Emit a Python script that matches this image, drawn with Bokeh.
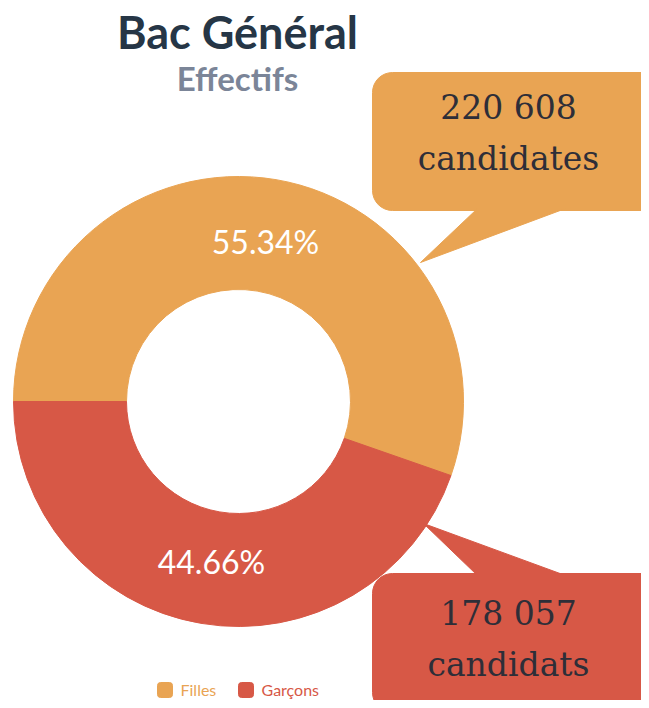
import math
from bokeh.plotting import figure
from bokeh.models import Range1d
from bokeh.core.properties import value
from bokeh.embed import file_html
from bokeh.resources import INLINE

# ---- data ----
categories = ["Filles", "Garçons"]
counts = [220608, 178057]
percent_labels = ["55.34%", "44.66%"]
callout_line1 = ["220 608", "178 057"]
callout_line2 = ["candidates", "candidats"]
colors = ["#E9A453", "#D75846"]
title_text = "Bac Général"
subtitle_text = "Effectifs"

W, H = 641, 700
p = figure(width=W, height=H, output_backend="svg", toolbar_location=None,
           x_range=Range1d(0, W), y_range=Range1d(0, H),
           min_border=0, outline_line_color=None)
p.axis.visible = False
p.grid.visible = False
p.background_fill_color = "white"

def Y(ys):  # screen y -> data y
    return H - ys

cx, cy = 238, Y(401)
r_out, r_in = 225, 112

total = sum(counts)
start = math.pi  # Filles starts at 9 o'clock and goes clockwise
angles = []
for c in counts:
    span = 2 * math.pi * c / total
    end = start - span
    angles.append((end, start))
    start = end

for (a0, a1), col in zip(angles, colors):
    p.annular_wedge(x=cx, y=cy, inner_radius=r_in, outer_radius=r_out,
                    start_angle=a0, end_angle=a1, color=col, line_color=col)

r_lab = 162
for (a0, a1), lab in zip(angles, percent_labels):
    mid = (a0 + a1) / 2
    p.text(x=[cx + r_lab * math.cos(mid)], y=[cy + r_lab * math.sin(mid)], text=[lab],
           text_font=value("Lato"), text_font_size="32px", text_color="white",
           text_align="center", text_baseline="middle")

# callouts
boxes = [(72, 210, 262, 420), (573, 712, 523, 423)]  # top, bottom, tip_y, tip_x (screen)
for i, ((top, bot, tip_y, tip_x), col) in enumerate(zip(boxes, colors)):
    p.quad(left=372, right=680, top=Y(top), bottom=Y(bot), color=col,
           line_color=col, border_radius=20)
    base_y = bot - 2 if i == 0 else top + 2
    p.patch(x=[477, 565, tip_x], y=[Y(base_y), Y(base_y), Y(tip_y)], color=col, line_color=col)
    mid_x = 508
    ly1 = top + 35 if i == 0 else top + 40
    p.text(x=[mid_x], y=[Y(ly1)], text=[callout_line1[i]],
           text_font=value("DejaVu Serif"), text_font_size="33px", text_color="#2e2e38",
           text_align="center", text_baseline="middle")
    p.text(x=[mid_x], y=[Y(ly1 + 51)], text=[callout_line2[i]],
           text_font=value("DejaVu Serif"), text_font_size="33px", text_color="#2e2e38",
           text_align="center", text_baseline="middle")

# titles
p.text(x=[237], y=[Y(31)], text=[title_text], text_font=value("Lato"),
       text_font_style="bold", text_font_size="45px", text_color="#263646",
       text_align="center", text_baseline="middle")
p.text(x=[237], y=[Y(77)], text=[subtitle_text], text_font=value("Lato"),
       text_font_style="bold", text_font_size="33px", text_color="#7B8598",
       text_align="center", text_baseline="middle")

# legend
leg_x = [157, 238]
for lx, cat, col in zip(leg_x, categories, colors):
    p.quad(left=lx, right=lx + 15, top=Y(682), bottom=Y(697), color=col,
           line_color=col, border_radius=3)
    p.text(x=[lx + 23], y=[Y(689)], text=[cat], text_font=value("Lato"),
           text_font_size="16px", text_color=col, text_align="left",
           text_baseline="middle")

open("out.html", "w").write(file_html(p, INLINE))
